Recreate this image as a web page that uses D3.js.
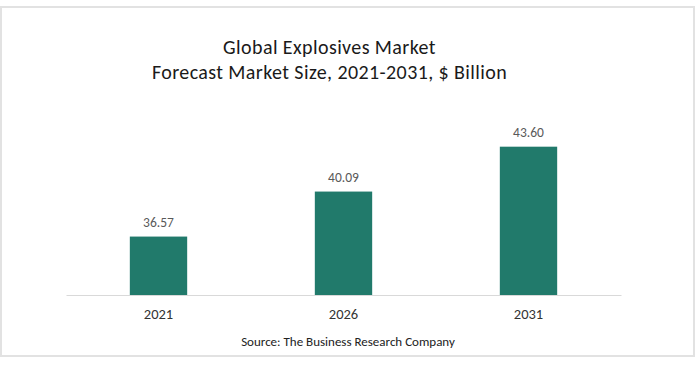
<!DOCTYPE html>
<html>
<head>
<meta charset="utf-8">
<script src="https://cdn.jsdelivr.net/npm/d3@7"></script>
<style>
  html, body { margin: 0; padding: 0; background: #fff; }
  svg text { font-family: Carlito, Calibri, Lato, "Open Sans", sans-serif; }
</style>
</head>
<body>
<div id="chart"></div>
<script>
// data
var years = ["2021", "2026", "2031"];
var marketSize = [36.57, 40.09, 43.60];
var valueLabels = ["36.57", "40.09", "43.60"];
var titleLines = ["Global Explosives Market", "Forecast Market Size, 2021-2031, $ Billion"];
var sourceText = "Source: The Business Research Company";

var W = 696, H = 365;
var margin = {top: 116, right: 75, bottom: 70, left: 66},
    width = W - margin.left - margin.right,
    height = H - margin.top - margin.bottom;

var svg = d3.select("#chart")
  .append("svg")
    .attr("width", W)
    .attr("height", H);

// outer frame
svg.append("rect")
  .attr("x", 1).attr("y", 7)
  .attr("width", 693).attr("height", 349)
  .attr("fill", "#fff")
  .attr("stroke", "#e2e2e2")
  .attr("stroke-width", 2);

// title (sits a bit left of the plot centre, like the original)
svg.append("g").selectAll("text")
  .data(titleLines)
  .enter().append("text")
    .attr("x", 329.5)
    .attr("y", function(d, i) { return 54 + i * 24.5; })
    .attr("text-anchor", "middle")
    .attr("font-size", 20)
    .attr("letter-spacing", "0.4px")
    .attr("fill", "#1a1a1a")
    .text(function(d) { return d; });

var g = svg.append("g")
  .attr("transform", "translate(" + margin.left + "," + margin.top + ")");

var x = d3.scaleBand()
  .domain(years)
  .range([0, width])
  .paddingInner(0.69)
  .paddingOuter(0.345);

var y = d3.scaleLinear()
  .domain([32, 46])
  .range([height, 0]);

// bars
g.selectAll(".bar")
  .data(marketSize)
  .enter().append("rect")
    .attr("class", "bar")
    .attr("x", function(d, i) { return x(years[i]); })
    .attr("y", function(d) { return y(d); })
    .attr("width", x.bandwidth())
    .attr("height", function(d) { return height - y(d); })
    .attr("fill", "#217a6b");

// value labels
g.selectAll(".val")
  .data(marketSize)
  .enter().append("text")
    .attr("class", "val")
    .attr("x", function(d, i) { return x(years[i]) + x.bandwidth() / 2; })
    .attr("y", function(d) { return y(d) - 10; })
    .attr("text-anchor", "middle")
    .attr("font-size", 13.5)
    .attr("fill", "#595959")
    .text(function(d, i) { return valueLabels[i]; });

// x axis
var xAxis = d3.axisBottom(x).tickSize(0).tickPadding(14);
var ax = g.append("g")
  .attr("transform", "translate(0," + height + ")")
  .call(xAxis);
ax.select(".domain").attr("stroke", "#d9d9d9").attr("stroke-width", 1.2);
ax.selectAll("text")
  .attr("font-size", 14.5)
  .attr("fill", "#333")
  .attr("font-family", null);

// source
svg.append("text")
  .attr("x", 348)
  .attr("y", 346)
  .attr("text-anchor", "middle")
  .attr("font-size", 13)
  .attr("fill", "#222")
  .text(sourceText);
</script>
</body>
</html>
